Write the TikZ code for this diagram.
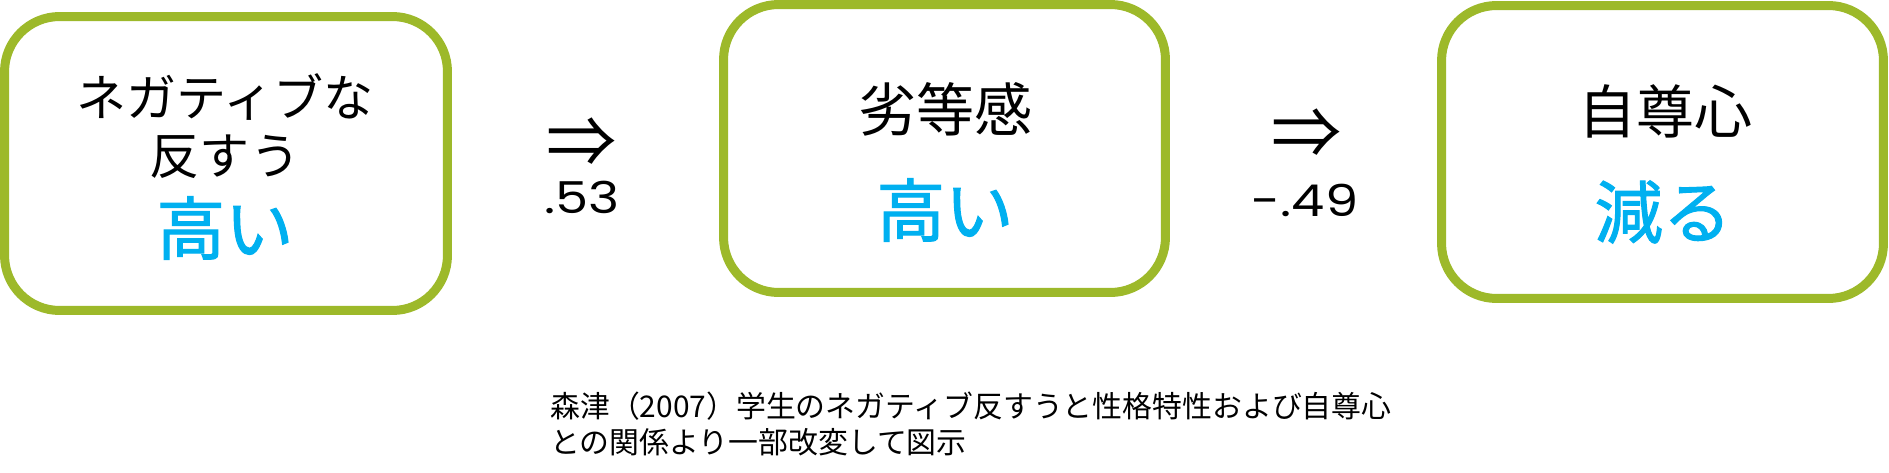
\documentclass[tikz,border=0pt]{standalone}
\usepackage{fontspec}
\setmainfont{Noto Sans CJK JP}
\newfontfamily\numfont[FakeStretch=1.2]{Poppins}
\newfontfamily\bluefont[FakeBold=1.5]{Noto Sans CJK JP}
\usepackage{tikz}
\usetikzlibrary{positioning}
\definecolor{boxgreen}{HTML}{9DB92A}
\definecolor{textblue}{HTML}{00B0F0}

\tikzset{
	stagebox/.style={draw=boxgreen, line width=0.18cm, rounded corners=1.1cm, fill=white},
	smalltxt/.style={inner sep=0pt, font=\fontsize{28.5}{34}\selectfont},
	bigtxt/.style={inner sep=0pt, font=\fontsize{33}{40}\selectfont},
	bluetxt/.style={inner sep=0pt, text=textblue, font=\bluefont\fontsize{39}{46}\selectfont},
	impl/.style={inner sep=0pt, font=\fontsize{40}{46}\selectfont},
	coef/.style={inner sep=0pt, font=\numfont\fontsize{25}{30}\selectfont},
}

\begin{document}
\begin{tikzpicture}[x=0.02cm, y=-0.02cm]
	\useasboundingbox (0,0) rectangle (1889,473);

	% the three boxes
	\node[stagebox, minimum width=8.86cm, minimum height=5.88cm] (rumination) at (226,163.5) {};
	\node[stagebox, minimum width=8.84cm, minimum height=5.76cm] (inferiority) at (944.5,148.5) {};
	\node[stagebox, minimum width=8.84cm, minimum height=5.86cm] (esteem) at (1662.5,152) {};

	% texts in the boxes
	\node[smalltxt] (rumA) at (225,97) {ネガティブな};
	\node[smalltxt] (rumB) at (225,157) {反すう};
	\node[bluetxt] (rumC) at (225,228) {高い};

	\node[bigtxt] (infA) at (945,109) {劣等感};
	\node[bluetxt] (infB) at (945,210) {高い};

	\node[bigtxt] (estA) at (1665,111) {自尊心};
	\node[bluetxt] (estB) at (1663,212) {減る};

	% arrows and coefficients
	\node[impl] (implA) at (582,143) {⇒};
	\node[coef] (coefA) at (582,197) {.53};
	\node[impl] (implB) at (1307,134) {⇒};
	\node[coef] (coefB) at (1305,200) {-.49};

	% source
	\node[inner sep=0pt, anchor=west, align=left, font=\fontsize{17}{21}\selectfont] (source) at (550,424)
		{森津（2007）学生のネガティブ反すうと性格特性および自尊心\\との関係より一部改変して図示};
\end{tikzpicture}
\end{document}
